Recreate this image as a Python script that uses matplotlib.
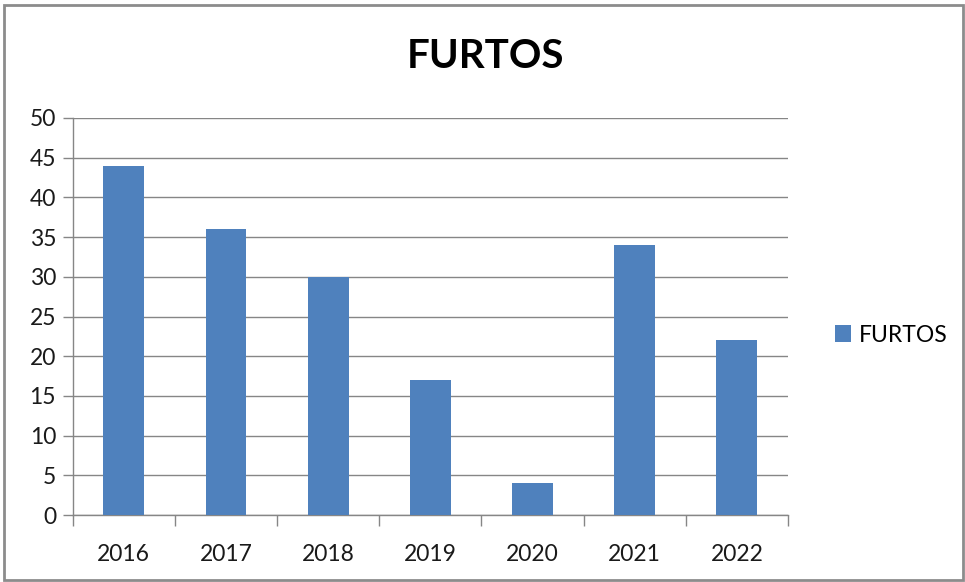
import matplotlib
matplotlib.use("Agg")
import matplotlib.pyplot as plt
from matplotlib.patches import Rectangle, Patch
import numpy as np

plt.rcParams['font.family'] = ['Lato', 'DejaVu Sans']

categories = ['2016', '2017', '2018', '2019', '2020', '2021', '2022']
values = [44, 36, 30, 17, 4, 34, 22]
series_name = 'FURTOS'
title = 'FURTOS'
bar_color = '#4F81BD'
grid_color = '#868686'

W, H = 965, 582
fig = plt.figure(figsize=(W/100, H/100), dpi=100)

left, right, top, bottom = 72.7, 788, 118, 515
ax = fig.add_axes([left/W, 1 - bottom/H, (right-left)/W, (bottom-top)/H])

x = np.arange(len(categories))
ax.bar(x, values, width=0.4, color=bar_color, zorder=3)
ax.set_xlim(-0.5, len(categories) - 0.5)
ax.set_ylim(0, 50)
ax.set_yticks(range(0, 51, 5))
ax.yaxis.grid(True, color=grid_color, linewidth=1.0, zorder=0)
ax.set_axisbelow(True)

for s in ['top', 'right']:
    ax.spines[s].set_visible(False)
for s in ['left', 'bottom']:
    ax.spines[s].set_color(grid_color)
    ax.spines[s].set_linewidth(1.0)

ax.set_xticks(np.arange(-0.5, len(categories), 1.0), minor=False)
ax.set_xticklabels([])
ax.set_xticks(x, minor=True)
ax.set_xticklabels(categories, minor=True)
ax.tick_params(axis='x', which='major', length=8, color=grid_color, width=1.0, direction='out')
ax.tick_params(axis='x', which='minor', length=0, pad=21, labelsize=16.5, labelcolor='#1a1a1a')
ax.tick_params(axis='y', length=7, color=grid_color, width=1.0, labelsize=16.5, pad=5, labelcolor='#1a1a1a')

fig.text(485/W, 1 - 57/H, title, ha='center', va='center', fontsize=29, fontweight='bold', color='black')

handles = [Patch(facecolor=bar_color, edgecolor='none', label=series_name)]
fig.legend(handles=handles, loc='center left', bbox_to_anchor=(814/W, 1 - 335/H),
           frameon=False, fontsize=16.5, handlelength=0.7, handleheight=0.7, handletextpad=0.35)

fig.patches.append(Rectangle((4/W, 2/H), 959/W, 575/H, transform=fig.transFigure,
                             fill=False, edgecolor='#8c8c8c', linewidth=2))

fig.savefig('out.png', dpi=100)
